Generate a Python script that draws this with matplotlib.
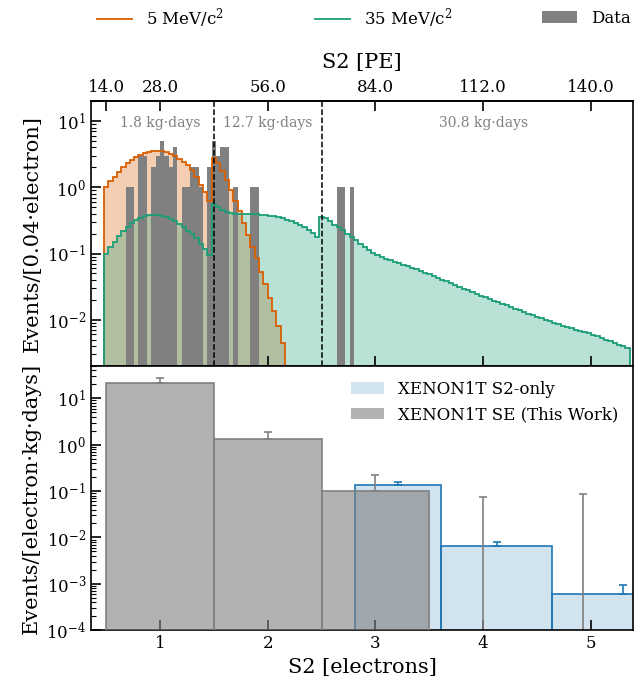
import numpy as np
import matplotlib
matplotlib.use('Agg')
import matplotlib.pyplot as plt
from matplotlib.patches import Patch
from matplotlib.lines import Line2D
from matplotlib.ticker import FormatStrFormatter, NullFormatter

plt.rcParams['font.family'] = ['DejaVu Serif']
plt.rcParams['mathtext.fontset'] = 'dejavuserif'
plt.rcParams['axes.linewidth'] = 1.2

# ---------------- top panel data (bins of 0.04 electron) ----------------
bin_width = 0.04
first_edge = 0.48

model_5mev = [1.0, 1.25, 1.45, 1.70, 2.0, 2.3, 2.58, 2.87, 3.11, 3.30,
              3.45, 3.53, 3.57, 3.53, 3.41, 3.22, 2.98, 2.72, 2.45, 2.15,
              1.80, 1.45, 1.10, 0.84, 0.62,
              2.8, 2.35, 1.75, 1.27, 0.91, 0.62, 0.44, 0.29, 0.19, 0.127,
              0.085, 0.053, 0.035, 0.021, 0.0135, 0.008, 0.0045, 0.0012]

model_35mev = [0.10, 0.127, 0.15, 0.184, 0.22, 0.254, 0.285, 0.32, 0.347, 0.368,
               0.38, 0.386, 0.38, 0.37, 0.356, 0.336, 0.31, 0.279, 0.25, 0.22,
               0.197, 0.17, 0.14, 0.115, 0.095,
               0.553, 0.5, 0.455, 0.425, 0.405, 0.395, 0.39, 0.39, 0.39, 0.39,
               0.39, 0.388, 0.385, 0.375, 0.365, 0.352, 0.34, 0.325, 0.31, 0.29,
               0.27, 0.25, 0.228, 0.205, 0.175,
               0.36, 0.34, 0.31, 0.27, 0.25, 0.224, 0.20, 0.178, 0.158, 0.141,
               0.126, 0.1135, 0.1035, 0.0955, 0.089, 0.084, 0.079, 0.075, 0.071, 0.0676,
               0.0646, 0.061, 0.0575, 0.0543, 0.0513, 0.0484, 0.0457, 0.0427, 0.0403, 0.038,
               0.0355, 0.0335, 0.0316, 0.0295, 0.0279, 0.0263, 0.0245, 0.0232, 0.0219, 0.0207,
               0.0195, 0.0184, 0.0174, 0.0164, 0.0155, 0.0146, 0.0138, 0.0132, 0.0124, 0.0117,
               0.0111, 0.0105, 0.0099, 0.0094, 0.0090, 0.0085, 0.0081, 0.0078, 0.0074, 0.0071,
               0.0068, 0.0065, 0.0062, 0.0058, 0.0056, 0.0053, 0.0050, 0.0047, 0.0045, 0.0042,
               0.0040, 0.0037]

data_counts = [0, 0, 0, 0, 0, 1, 1, 0, 3, 3,
               0, 2, 3, 5, 3, 2, 4, 0, 1, 1,
               2, 2, 1, 0, 2, 5, 3, 4, 4, 0,
               1, 0, 0, 0, 1, 1, 0, 0, 0, 0,
               0, 0, 0, 0, 0, 0, 0, 0, 0, 0,
               0, 0, 0, 0, 1, 1, 0, 1, 0, 0]

exposure_bounds = [1.5, 2.5]
exposure_labels = ['1.8 kg·days', '12.7 kg·days', '30.8 kg·days']
exposure_label_x = [1.0, 2.0, 4.0]

pe_per_electron = 28.0
pe_ticks = [14.0, 28.0, 56.0, 84.0, 112.0, 140.0]

# ---------------- bottom panel data ----------------
se_x = [1, 2, 3, 4, 4.93]
se_rate = [21.8, 1.3, 0.1, 0.0, 0.0]
se_upper = [27.0, 1.84, 0.22, 0.074, 0.087]

s2only_edges = [2.81, 3.61, 4.64, 5.96]
s2only_rate = [0.137, 0.0066, 5.9e-4]
s2only_upper = [0.16, 0.0079, 9.2e-4]

c_orange = '#d95f02'
c_green = '#1b9e77'
c_blue = '#1f77b4'

fig = plt.figure(figsize=(6.41, 6.79), dpi=100)
ax1 = fig.add_axes([0.142, 0.461, 0.8455, 0.390])
ax2 = fig.add_axes([0.142, 0.072, 0.8455, 0.389], sharex=ax1)

base = 1e-5

def edges_for(n):
    return first_edge + bin_width * np.arange(n + 1)

e5 = edges_for(len(model_5mev))
e35 = edges_for(len(model_35mev))
ed = edges_for(len(data_counts))

ax1.stairs(model_5mev, e5, fill=True, color=c_orange, alpha=0.3, baseline=base, zorder=1, lw=0)
ax1.stairs(model_35mev, e35, fill=True, color=c_green, alpha=0.3, baseline=base, zorder=1.1, lw=0)
dc = np.array(data_counts, dtype=float)
mask = dc > 0
ax1.bar(ed[:-1][mask], dc[mask], width=bin_width, align='edge', bottom=base,
        color='grey', linewidth=0, zorder=2)
ax1.stairs(model_5mev, e5, color=c_orange, lw=1.3, baseline=base, zorder=3)
ax1.stairs(model_35mev, e35, color=c_green, lw=1.3, baseline=base, zorder=3)

for b in exposure_bounds:
    ax1.axvline(b, color='k', ls='--', lw=1.1, zorder=4)
for xl, lab in zip(exposure_label_x, exposure_labels):
    ax1.text(xl, 0.918, lab, transform=ax1.get_xaxis_transform(), ha='center', va='center',
             color='grey', fontsize=10)

ax1.set_yscale('log')
ax1.set_ylim(2e-3, 20)
ax1.set_xlim(0.36, 5.39)
ax1.set_ylabel('Events/[0.04·electron]', fontsize=15)
ax1.tick_params(which='both', direction='in', top=False, right=False, labelbottom=False,
                labelsize=12)
ax1.tick_params(which='major', length=7, width=1.2)
ax1.tick_params(which='minor', length=3.5, width=0.8)
ax1.tick_params(axis='x', which='minor', bottom=False)

sec = ax1.secondary_xaxis('top', functions=(lambda e: e * pe_per_electron,
                                            lambda p: p / pe_per_electron))
sec.set_xticks(pe_ticks)
sec.xaxis.set_major_formatter(FormatStrFormatter('%.1f'))
sec.tick_params(direction='in', length=7, width=1.2, labelsize=12)
sec.tick_params(which='minor', top=False)
sec.set_xlabel('S2 [PE]', fontsize=15, labelpad=8)

handles = [Line2D([], [], color=c_orange, lw=1.3),
           Line2D([], [], color=c_green, lw=1.3),
           Patch(facecolor='grey', edgecolor='none')]
labels = ['5 MeV/c$^2$', '35 MeV/c$^2$', 'Data']
legend_x = [-0.016, 0.386, 0.805]
for h, lab, lx in zip(handles, labels, legend_x):
    leg = plt.matplotlib.legend.Legend(ax1, [h], [lab], loc='center left',
                                       bbox_to_anchor=(lx, 1.313), frameon=False,
                                       fontsize=12, handlelength=2.1)
    ax1.add_artist(leg)

# bottom panel
s2e = np.array(s2only_edges)
s2c = 0.5 * (s2e[:-1] + s2e[1:])
s2w = np.diff(s2e)
ax2.bar(s2e[:-1], s2only_rate, width=s2w, align='edge', bottom=base,
        facecolor=(0.122, 0.467, 0.706, 0.2), edgecolor=c_blue, lw=1.2, zorder=1)

ser = np.array(se_rate)
sex = np.array(se_x, dtype=float)
sm = ser > 0
ax2.bar(sex[sm], ser[sm], width=1.0, align='center', bottom=base,
        facecolor=(0.5, 0.5, 0.5, 0.6), edgecolor=(0.5, 0.5, 0.5, 1.0), lw=1.2, zorder=3)

se_plot = np.where(ser > 0, ser, base)
ax2.errorbar(sex, se_plot, yerr=[np.zeros_like(ser), np.array(se_upper) - se_plot],
             fmt='none', ecolor='grey', elinewidth=1.2, capsize=3, capthick=1.2, zorder=2)
s2r = np.array(s2only_rate)
ax2.errorbar(s2c, s2r, yerr=[np.zeros_like(s2r), np.array(s2only_upper) - s2r],
             fmt='none', ecolor=c_blue, elinewidth=1.2, capsize=3, capthick=1.2, zorder=4)

ax2.set_yscale('log')
ax2.set_ylim(1e-4, 50)
ax2.set_xlim(0.36, 5.39)
ax2.set_xticks([1, 2, 3, 4, 5])
ax2.set_xlabel('S2 [electrons]', fontsize=15)
ax2.set_ylabel('Events/[electron·kg·days]', fontsize=15)
ax2.tick_params(which='both', direction='in', top=False, right=False, labelsize=12)
ax2.tick_params(which='major', length=7, width=1.2)
ax2.tick_params(which='minor', length=3.5, width=0.8)
ax2.tick_params(axis='x', which='minor', bottom=False)

leg_h = [Patch(facecolor=(0.122, 0.467, 0.706, 0.2), edgecolor='none'),
         Patch(facecolor=(0.5, 0.5, 0.5, 0.6), edgecolor='none')]
ax2.legend(leg_h, ['XENON1T S2-only', 'XENON1T SE (This Work)'], loc='upper right',
           frameon=False, fontsize=12)

fig.align_ylabels([ax1, ax2])
fig.savefig('out.png', dpi=100)
